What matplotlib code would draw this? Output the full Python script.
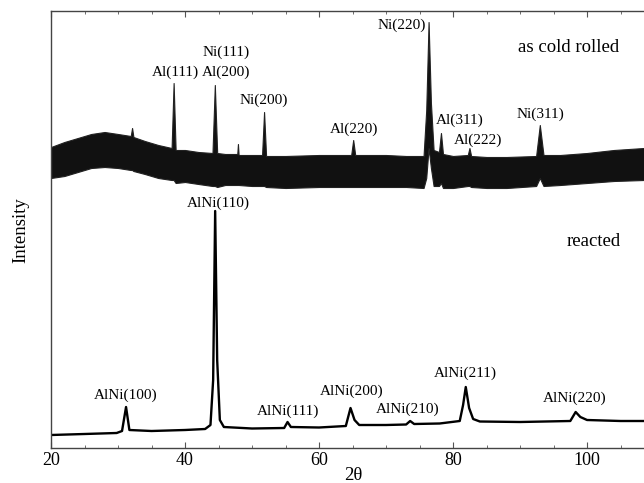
import numpy as np
import matplotlib
matplotlib.use("Agg")
import matplotlib.pyplot as plt
from matplotlib.ticker import MultipleLocator

plt.rcParams['font.family'] = 'serif'
plt.rcParams['font.serif'] = ['Liberation Serif', 'DejaVu Serif']

# reacted sample: 2theta and intensity (arb. units)
react_x = [20, 25, 29.8, 30.6, 31.2, 31.7, 35, 40, 43.0, 43.8, 44.2, 44.5, 44.8, 45.2, 45.8,
           50, 54.8, 55.3, 55.8, 60, 64.0, 64.7, 65.3, 66, 70, 73.0, 73.6, 74.2, 78,
           81.0, 81.5, 81.9, 82.4, 83.0, 84, 90, 97.5, 98.3, 99.0, 100, 105, 108.5]
react_y = [13, 14, 15, 17, 41, 18, 17, 18, 19, 23, 68, 237, 88, 28, 21,
           19.5, 20, 26, 21, 20.5, 22, 40, 28, 23, 23, 23.5, 27, 24, 24.5,
           27, 43, 61, 40, 29, 26.5, 26, 27, 36, 31, 28, 27, 27]

# as cold rolled sample: upper / lower edge of the noisy trace
cold_x = [20, 22, 24, 26, 28, 30, 31.9, 32.1, 32.3, 34, 36, 38.0, 38.3, 38.6, 40, 42,
          44.1, 44.45, 44.8, 46, 47.8, 47.9, 48.0, 50, 51.5, 51.8, 52.1, 55, 60,
          64.8, 65.1, 65.4, 70, 73, 75.6, 76.0, 76.35, 76.7, 77.1, 77.9, 78.2, 78.5,
          80, 82.2, 82.45, 82.7, 85, 88, 92.4, 92.95, 93.5, 96, 100, 104, 108.5]
cold_hi = [301, 306, 310, 314, 316, 314, 312, 320, 311, 307, 303, 300, 365, 298, 298, 296,
           295, 363, 295, 294, 294, 304, 293, 293, 293, 336, 292, 292, 293,
           293, 308, 293, 293, 292, 292, 338, 426, 345, 298, 296, 315, 294,
           292, 293, 300, 292, 291, 291, 292, 323, 293, 293, 295, 298, 300]
cold_lo = [270, 272, 276, 280, 281, 280, 278, 278, 277, 274, 270, 268, 268, 265, 266, 264,
           262, 262, 261, 263, 263, 263, 263, 262, 262, 262, 261, 260, 261,
           261, 261, 261, 261, 261, 260, 270, 300, 280, 262, 262, 265, 260,
           260, 262, 262, 261, 260, 260, 262, 270, 262, 263, 265, 267, 268]

cold_labels = ['Al(111)', 'Ni(111)', 'Al(200)', 'Ni(200)', 'Al(220)', 'Ni(220)',
               'Al(311)', 'Al(222)', 'Ni(311)']
cold_lab_x = [38.5, 46.1, 46.1, 51.8, 65.2, 72.4, 81.0, 83.7, 93.0]
cold_lab_y = [376, 396, 376, 348, 319, 423, 328, 308, 334]

react_labels = ['AlNi(110)', 'AlNi(100)', 'AlNi(111)', 'AlNi(200)', 'AlNi(210)',
                'AlNi(211)', 'AlNi(220)']
react_lab_x = [44.9, 31.2, 55.4, 64.8, 73.3, 81.8, 98.2]
react_lab_y = [245, 53, 37, 57, 39, 75, 50]

fig = plt.figure(figsize=(6.44, 4.83), dpi=100)
ax = fig.add_axes([51/644, 35/483, 593/644, 437/483])

ax.fill_between(cold_x, cold_lo, cold_hi, facecolor='#111111', lw=0.8, edgecolor='#222222')
ax.plot(react_x, react_y, color='black', lw=1.7)

for s, x, y in zip(cold_labels, cold_lab_x, cold_lab_y):
    ax.text(x, y, s, ha='center', va='center', fontsize=11)
for s, x, y in zip(react_labels, react_lab_x, react_lab_y):
    ax.text(x, y, s, ha='center', va='center', fontsize=11)
ax.text(97.3, 401, 'as cold rolled', ha='center', va='center', fontsize=13.5)
ax.text(101.0, 206, 'reacted', ha='center', va='center', fontsize=13.5)

ax.set_xlim(20, 108.5)
ax.set_ylim(0, 437)
ax.xaxis.set_major_locator(MultipleLocator(20))
ax.xaxis.set_minor_locator(MultipleLocator(5))
ax.tick_params(axis='x', which='both', direction='in', top=True, bottom=True,
               labelsize=13, pad=3, color='#555555')
ax.tick_params(axis='x', which='major', length=4)
ax.tick_params(axis='x', which='minor', length=2.5)
ax.set_yticks([])
ax.spines['right'].set_visible(False)
for sp in ['left', 'top', 'bottom']:
    ax.spines[sp].set_color('#444444')
    ax.spines[sp].set_linewidth(1.0)

fig.text(353/644, 1 - 476/483, '2θ', ha='center', va='center', fontsize=13.5)
fig.text(21/644, 1 - 230/483, 'Intensity', ha='center', va='center', fontsize=13.5,
         rotation=90)

fig.savefig('out.png', dpi=100)
